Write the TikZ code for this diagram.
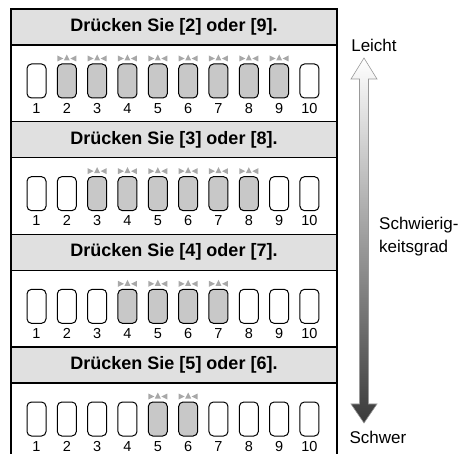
\documentclass[tikz,border=0pt]{standalone}
\usepackage{fontspec}
\setmainfont{Liberation Sans}
\usetikzlibrary{positioning}
\usepackage{xcolor}
\definecolor{hdrgray}{HTML}{E0E0E0}
\definecolor{keygray}{HTML}{C8C8C8}
\definecolor{lampgray}{HTML}{A8A8A8}
\definecolor{arrowdark}{HTML}{3A3A3A}

\begin{document}
\begin{tikzpicture}[
    x=1pt, y=-1pt,
    every node/.style={inner sep=0pt},
    header/.style={
        rectangle, draw, line width=1.3pt, fill=hdrgray,
        minimum width=326pt, minimum height=36pt,
        font=\fontsize{18}{21}\selectfont\bfseries
    },
    keybox/.style={rectangle, rounded corners=4.5pt, draw, line width=1pt,
        minimum width=19pt, minimum height=34pt, fill=white},
    keyon/.style={keybox, fill=keygray},
    keynum/.style={font=\fontsize{14.5}{16}\selectfont},
    sidelbl/.style={font=\fontsize{17}{23}\selectfont, align=left},
    lamp/.style={fill=lampgray}
]
\useasboundingbox (0,0) rectangle (464,454);

% outer frame
\coordinate (fbl) at (11,454);
\coordinate (ftl) at (11,9);
\coordinate (ftr) at (337,9);
\coordinate (fbr) at (337,454);
\draw[line width=1.3pt] (fbl) -- (ftl) -- (ftr) -- (fbr);

% four sections: header, keys 1..10, numbers
\foreach \s in {1,...,4} {
    \pgfmathsetmacro{\top}{9+(\s-1)*112.67}
    \pgfmathtruncatemacro{\lo}{\s+1}
    \pgfmathtruncatemacro{\hi}{10-\s}
    \node[header] (hdr\s) at (174,\top+18) {Drücken Sie [\lo] oder [\hi].};
    \foreach \k in {1,...,10} {
        \pgfmathsetmacro{\kx}{36.5+(\k-1)*30.33}
        \ifnum\k<\lo
            \node[keybox] (k\s-\k) at (\kx,\top+72) {};
        \else\ifnum\k>\hi
            \node[keybox] (k\s-\k) at (\kx,\top+72) {};
        \else
            \node[keyon] (k\s-\k) at (\kx,\top+72) {};
            % lamp marks
            \path[lamp] ([shift={(-9.5,-8)}]k\s-\k.north)
                -- ++(0,6) -- ++(6,-3) -- cycle;
            \path[lamp] ([shift={(-3,-3)}]k\s-\k.north)
                -- ++(6,0) -- ++(-3,-6) -- cycle;
            \path[lamp] ([shift={(9.5,-8)}]k\s-\k.north)
                -- ++(0,6) -- ++(-6,-3) -- cycle;
        \fi\fi
        \node[keynum, below=4.5pt of k\s-\k] (n\s-\k) {\k};
    }
}

% difficulty arrow
\coordinate (uptip) at (364,58);
\coordinate (downtip) at (364,423);
\shade[top color=white, bottom color=arrowdark, draw=gray!80, line width=0.6pt]
    (uptip) -- ++(13,21) -- ++(-8.5,0) -- ++(0,325) -- ++(8.5,0)
    -- (downtip) -- ++(-13,-19) -- ++(8.5,0) -- ++(0,-325) -- ++(-8.5,0)
    -- cycle;

\node[sidelbl] (easy) at (374,45) {Leicht};
\node[sidelbl] (hard) at (378,437) {Schwer};
\node[sidelbl, anchor=west] (level) at (379,237) {Schwierig-\\keitsgrad};

\end{tikzpicture}
\end{document}
